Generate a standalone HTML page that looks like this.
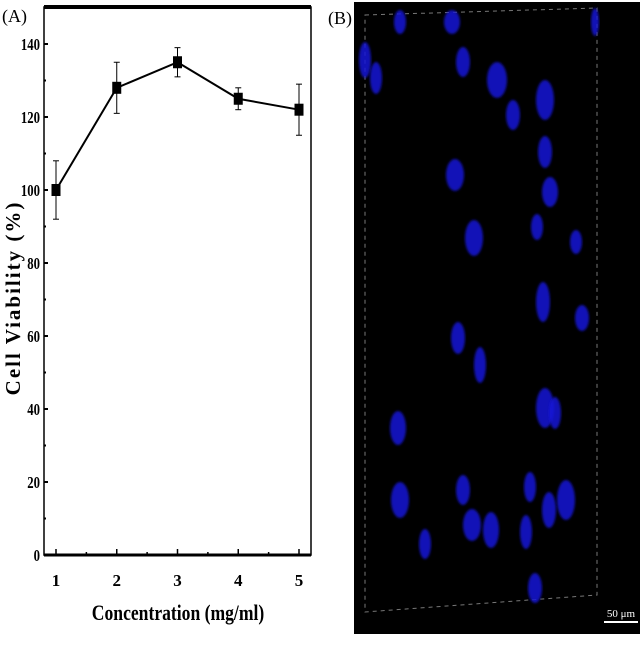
<!DOCTYPE html>
<html><head><meta charset="utf-8"><style>
body{margin:0;background:#fff;width:640px;height:640px;overflow:hidden}
svg text{font-family:"Liberation Serif",serif}
</style></head><body>
<svg width="640" height="640" viewBox="0 0 640 640">
<defs><filter id="bl"><feGaussianBlur stdDeviation="1.2"/></filter></defs>
<g id="chart"></g>
<g id="micro"></g>
</svg>
<script>
const categories=[1,2,3,4,5];
const viability=[100,128,135,125,122];
const errors=[8,7,4,3,7];
const yTicks=[0,20,40,60,80,100,120,140];
const NS='http://www.w3.org/2000/svg';
function mk(p,t,a){const e=document.createElementNS(NS,t);for(const k in a)e.setAttribute(k,a[k]);p.appendChild(e);return e;}
const L=44,R=311,T=7,B=555;
const xS=v=>56+(v-1)*60.75;
const yS=v=>555-v*3.65;
const g=document.getElementById('chart');
let e=mk(g,'rect',{x:L,y:T,width:R-L,height:B-T,fill:'none',stroke:'#000','stroke-width':1.5});

mk(g,'line',{x1:L,y1:T,x2:R,y2:T,stroke:'#000','stroke-width':4});
mk(g,'line',{x1:L,y1:B,x2:R,y2:B,stroke:'#000','stroke-width':3});
yTicks.forEach(v=>{
 mk(g,'line',{x1:L,y1:yS(v),x2:L+4,y2:yS(v),stroke:'#000','stroke-width':2});
 if(v<140)mk(g,'line',{x1:L,y1:yS(v+10),x2:L+2,y2:yS(v+10),stroke:'#000','stroke-width':2});
 const t=mk(g,'text',{x:L-4,y:yS(v)+6,'text-anchor':'end','font-size':17,'font-weight':'bold',transform:`translate(${(L-4)*0.25},0) scale(0.75,1)`});
 t.setAttribute('x',(L-4));
 t.textContent=v;
});
categories.forEach((c,i)=>{
 mk(g,'line',{x1:xS(c),y1:B,x2:xS(c),y2:B-6,stroke:'#000','stroke-width':1.5});
 if(i<4)mk(g,'line',{x1:xS(c+0.5),y1:B,x2:xS(c+0.5),y2:B-3,stroke:'#000','stroke-width':1.5});
 const t=mk(g,'text',{x:xS(c),y:586,'text-anchor':'middle','font-size':17,'font-weight':'bold'});
 t.textContent=c;
});
let pts=categories.map((c,i)=>xS(c)+','+yS(viability[i])).join(' ');
e=mk(g,'polyline',{points:pts,fill:'none',stroke:'#000','stroke-width':2});

categories.forEach((c,i)=>{
 const x=xS(c),y=yS(viability[i]),y1=yS(viability[i]+errors[i]),y2=yS(viability[i]-errors[i]);
 mk(g,'line',{x1:x,y1:y1,x2:x,y2:y2,stroke:'#000','stroke-width':1});
 mk(g,'line',{x1:x-3,y1:y1,x2:x+3,y2:y1,stroke:'#000','stroke-width':1});
 mk(g,'line',{x1:x-3,y1:y2,x2:x+3,y2:y2,stroke:'#000','stroke-width':1});
 const r=mk(g,'rect',{x:x-4.5,y:y-6,width:9,height:12,fill:'#000'});
 
});
e=mk(g,'text',{x:2,y:22,'font-size':18});e.textContent='(A)';

e=mk(g,'text',{x:0,y:0,'text-anchor':'middle','font-size':22,'font-weight':'bold',transform:'translate(178,620) scale(0.8,1)'});e.textContent='Concentration (mg/ml)';

e=mk(g,'text',{x:0,y:0,'text-anchor':'middle','font-size':21,'font-weight':'bold','letter-spacing':'2',transform:'translate(20,298) rotate(-90)'});e.textContent='Cell Viability (%)';

// micrograph
const m=document.getElementById('micro');
e=mk(m,'text',{x:328,y:24,'font-size':18});e.textContent='(B)';

e=mk(m,'rect',{x:354,y:2,width:286,height:632,fill:'#000'});

mk(m,'path',{d:'M365 15 L597 8 L597 595 L365 612 Z',fill:'none',stroke:'#777','stroke-width':1,'stroke-dasharray':'4 4'});
const nuc=[[400,22,6,12],[376,78,6,16],[463,62,7,15],[452,22,8,12],[497,80,10,18],[513,115,7,15],[545,100,9,20],[545,152,7,16],[550,192,8,15],[455,175,9,16],[474,238,9,18],[537,227,6,13],[576,242,6,12],[543,302,7,20],[582,318,7,13],[458,338,7,16],[480,365,6,18],[545,408,9,20],[555,413,6,16],[398,428,8,17],[400,500,9,18],[463,490,7,15],[530,487,6,15],[566,500,9,20],[549,510,7,18],[472,525,9,16],[491,530,8,18],[526,532,6,17],[425,544,6,15],[535,588,7,15],[365,60,6,18],[595,22,4,14]];
nuc.forEach(n=>{mk(m,'ellipse',{cx:n[0],cy:n[1],rx:n[2],ry:n[3],fill:'#1818d8',opacity:0.85,filter:'url(#bl)'});});
mk(m,'line',{x1:604,y1:622,x2:638,y2:622,stroke:'#fff','stroke-width':2});
e=mk(m,'text',{x:621,y:617,'text-anchor':'middle','font-size':11,fill:'#fff'});e.textContent='50 μm';

</script>
</body></html>
